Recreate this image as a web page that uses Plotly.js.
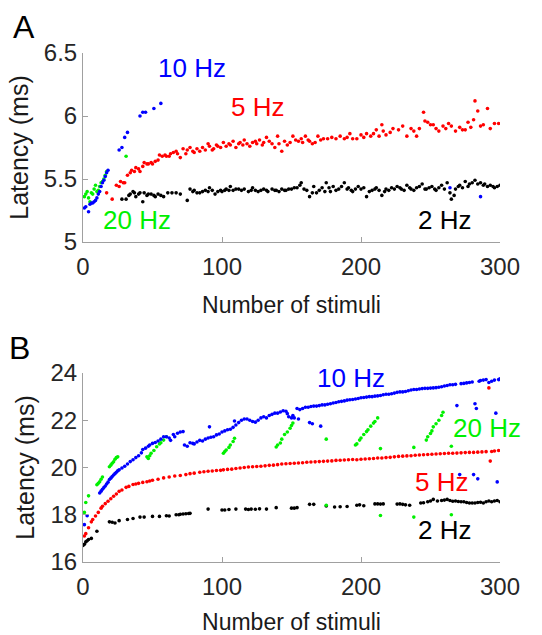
<!DOCTYPE html>
<html>
<head>
<meta charset="utf-8">
<script src="https://cdn.plot.ly/plotly-3.0.1.min.js"></script>
<style>html,body{margin:0;padding:0;background:#fff;}#chart{width:542px;height:635px;}</style>
</head>
<body>
<div id="chart"></div>
<script>
// ---------- Panel A data: [stimulus number, latency (ms)] ----------
const panelA_2Hz = [[28,5.34],[31,5.34],[33,5.37],[34,5.38],[36,5.40],[37,5.39],[38,5.36],[40,5.38],[41,5.39],[43,5.32],[44,5.39],[46,5.37],[47,5.38],[49,5.38],[51,5.37],[52,5.36],[54,5.38],[56,5.37],[58,5.36],[61,5.39],[64,5.39],[67,5.39],[70,5.38],[75,5.33],[77,5.42],[79,5.40],[80,5.41],[82,5.39],[84,5.39],[86,5.40],[88,5.41],[90,5.40],[91,5.43],[93,5.41],[95,5.38],[97,5.40],[99,5.41],[100,5.40],[102,5.41],[103,5.42],[105,5.41],[106,5.44],[108,5.41],[110,5.42],[112,5.42],[114,5.41],[116,5.42],[119,5.40],[121,5.41],[122,5.43],[124,5.41],[126,5.40],[128,5.41],[130,5.42],[132,5.41],[133,5.40],[136,5.42],[138,5.41],[139,5.41],[141,5.40],[143,5.42],[145,5.41],[146,5.41],[148,5.42],[150,5.42],[152,5.43],[154,5.43],[156,5.45],[157,5.47],[159,5.42],[161,5.41],[163,5.36],[165,5.39],[166,5.44],[168,5.39],[170,5.41],[172,5.43],[174,5.40],[175,5.47],[177,5.43],[178,5.40],[180,5.44],[182,5.41],[184,5.42],[186,5.44],[188,5.47],[190,5.42],[191,5.43],[193,5.41],[194,5.40],[196,5.42],[198,5.44],[200,5.42],[202,5.43],[204,5.36],[206,5.40],[208,5.41],[210,5.42],[211,5.43],[213,5.41],[215,5.37],[217,5.40],[218,5.42],[220,5.41],[222,5.43],[224,5.42],[226,5.44],[228,5.43],[229,5.42],[231,5.41],[233,5.45],[235,5.43],[236,5.42],[238,5.41],[240,5.43],[242,5.44],[244,5.46],[246,5.42],[247,5.42],[249,5.43],[251,5.44],[253,5.42],[254,5.41],[256,5.43],[258,5.45],[260,5.42],[262,5.47],[264,5.39],[265,5.34],[267,5.37],[268,5.42],[270,5.44],[271,5.45],[273,5.43],[275,5.48],[277,5.44],[278,5.46],[280,5.47],[282,5.49],[284,5.46],[286,5.47],[288,5.45],[289,5.46],[291,5.44],[293,5.45],[295,5.44],[296,5.43],[298,5.44],[300,5.45]];
const panelA_5Hz = [[17,5.39],[21,5.34],[24,5.45],[26,5.44],[27,5.48],[29,5.47],[30,5.47],[32,5.53],[34,5.55],[35,5.57],[37,5.56],[38,5.59],[40,5.58],[41,5.56],[43,5.60],[44,5.63],[46,5.62],[47,5.62],[49,5.63],[50,5.62],[52,5.64],[54,5.65],[55,5.69],[57,5.68],[59,5.69],[60,5.68],[62,5.68],[63,5.70],[65,5.71],[67,5.72],[68,5.70],[70,5.67],[72,5.74],[74,5.70],[75,5.73],[77,5.75],[79,5.72],[80,5.71],[82,5.74],[84,5.72],[86,5.75],[88,5.73],[90,5.78],[91,5.76],[93,5.73],[94,5.74],[96,5.77],[97,5.76],[99,5.75],[101,5.79],[103,5.76],[105,5.78],[106,5.77],[108,5.80],[110,5.75],[112,5.78],[113,5.79],[115,5.77],[116,5.81],[118,5.78],[120,5.76],[122,5.79],[124,5.80],[125,5.78],[127,5.81],[129,5.77],[130,5.79],[132,5.83],[134,5.80],[136,5.78],[138,5.75],[140,5.84],[141,5.78],[143,5.72],[145,5.80],[147,5.77],[149,5.79],[151,5.84],[153,5.81],[155,5.80],[157,5.82],[158,5.79],[160,5.84],[162,5.81],[163,5.80],[165,5.78],[167,5.79],[169,5.84],[171,5.81],[173,5.82],[176,5.82],[179,5.83],[182,5.82],[185,5.84],[188,5.82],[190,5.83],[192,5.86],[194,5.82],[197,5.82],[200,5.85],[202,5.83],[204,5.86],[207,5.84],[209,5.86],[211,5.89],[213,5.84],[215,5.93],[216,5.88],[218,5.85],[221,5.87],[223,5.90],[227,5.89],[230,5.92],[233,5.84],[236,5.90],[238,5.88],[240,5.84],[242,5.90],[245,6.03],[246,5.96],[248,5.95],[250,5.93],[252,5.93],[254,5.90],[256,5.88],[259,5.92],[261,5.90],[263,5.94],[265,5.92],[268,5.88],[271,5.91],[273,5.89],[275,5.89],[277,5.95],[279,5.91],[281,5.97],[282,6.12],[284,6.04],[286,5.92],[288,5.93],[291,6.06],[293,5.90],[296,5.94],[299,5.94]];
const panelA_10Hz = [[1,5.27],[2,5.28],[4,5.24],[5,5.30],[6,5.31],[7,5.31],[8,5.32],[9,5.33],[10,5.35],[11,5.38],[12,5.40],[13,5.44],[14,5.47],[15,5.49],[16,5.52],[17,5.55],[18,5.57],[26,5.73],[28,5.75],[30,5.83],[32,5.87],[41,6.00],[43,6.03],[45,6.03],[51,6.06],[56,6.10],[264,5.43],[286,5.36]];
const panelA_20Hz = [[1,5.36],[2,5.38],[3,5.40],[4,5.35],[5,5.32],[6,5.39],[7,5.38],[8,5.42],[9,5.45],[10,5.40],[11,5.41],[12,5.44],[13,5.47],[14,5.48],[15,5.50],[16,5.53],[17,5.56],[31,5.68]];

// ---------- Panel B data: [stimulus number, latency (ms)] ----------
const panelB_2Hz = [[0,16.7],[1,16.75],[2,16.85],[3,16.9],[4,16.95],[6,17.0],[10,17.3],[19,17.7],[21,17.68],[23,17.65],[26,17.75],[32,17.8],[36,17.84],[41,17.9],[44,17.9],[50,17.93],[55,17.93],[60,17.96],[62,17.95],[67,18.0],[69,18.0],[70,18.02],[72,18.03],[74,18.04],[76,18.05],[77,18.06],[90,18.24],[100,18.2],[102,18.2],[105,18.22],[110,18.24],[117,18.24],[119,18.22],[121,18.24],[124,18.23],[127,18.25],[132,18.24],[139,18.3],[150,18.28],[152,18.28],[154,18.3],[163,18.44],[166,18.44],[175,18.37],[181,18.33],[185,18.34],[190,18.35],[197,18.4],[199,18.42],[202,18.38],[210,18.46],[212,18.46],[214,18.45],[216,18.46],[226,18.45],[228,18.46],[230,18.44],[232,18.42],[235,18.4],[243,18.5],[245,18.51],[248,18.55],[250,18.58],[252,18.65],[255,18.58],[258,18.6],[260,18.62],[262,18.65],[264,18.6],[266,18.57],[268,18.58],[270,18.56],[272,18.55],[274,18.55],[276,18.52],[278,18.5],[280,18.5],[282,18.5],[284,18.52],[286,18.53],[288,18.5],[290,18.55],[292,18.58],[294,18.55],[296,18.58],[298,18.6],[300,18.55]];
const panelB_5Hz = [[1,17.1],[2,17.2],[4,17.45],[6,17.7],[7,17.8],[9,17.95],[11,18.1],[13,18.28],[14,18.36],[16,18.47],[18,18.57],[20,18.68],[22,18.78],[24,18.88],[26,18.99],[28,19.05],[31,19.16],[33,19.2],[36,19.28],[38,19.3],[40,19.33],[43,19.37],[46,19.4],[48,19.43],[50,19.46],[54,19.5],[58,19.56],[62,19.6],[66,19.64],[70,19.66],[74,19.7],[77,19.74],[80,19.76],[84,19.8],[87,19.82],[90,19.84],[93,19.85],[96,19.87],[99,19.88],[101,19.9],[104,19.92],[107,19.93],[110,19.96],[113,19.98],[116,20.0],[119,20.02],[122,20.03],[125,20.04],[128,20.05],[131,20.07],[134,20.09],[137,20.1],[140,20.12],[143,20.15],[146,20.16],[149,20.17],[152,20.18],[155,20.19],[158,20.2],[161,20.22],[164,20.23],[167,20.24],[170,20.25],[173,20.26],[176,20.27],[179,20.28],[182,20.3],[185,20.31],[188,20.32],[191,20.33],[194,20.34],[197,20.33],[200,20.35],[203,20.36],[206,20.37],[209,20.38],[212,20.4],[215,20.4],[218,20.42],[221,20.43],[224,20.45],[227,20.47],[230,20.48],[233,20.49],[236,20.5],[239,20.52],[242,20.53],[245,20.54],[248,20.55],[251,20.56],[254,20.57],[257,20.58],[260,20.59],[263,20.6],[266,20.6],[269,20.61],[272,20.62],[275,20.63],[278,20.64],[281,20.64],[284,20.65],[287,20.66],[290,20.67],[292,23.37],[293,20.27],[294,20.68],[296,20.7],[299,20.72]];
const panelB_10Hz = [[1,17.58],[3,17.96],[12,18.92],[13,19.0],[14,19.08],[15,19.15],[16,19.22],[17,19.3],[18,19.38],[19,19.49],[20,19.55],[21,19.62],[22,19.68],[23,19.74],[24,19.8],[25,19.86],[26,19.9],[28,19.98],[30,20.05],[32,20.15],[34,20.25],[36,20.33],[38,20.42],[40,20.5],[42,20.62],[43,20.76],[45,20.82],[47,20.9],[48,20.95],[50,21.02],[52,21.06],[54,21.12],[56,21.2],[58,21.3],[60,21.3],[62,21.25],[63,21.15],[65,21.4],[66,21.3],[68,21.45],[70,21.5],[72,21.52],[73,20.95],[75,20.9],[77,21.05],[79,21.02],[80,21.0],[82,21.08],[84,21.15],[86,21.12],[88,21.2],[90,21.25],[91,21.72],[92,21.28],[94,21.3],[96,21.38],[98,21.42],[100,21.5],[102,21.55],[104,21.6],[106,21.62],[108,21.7],[109,21.97],[110,21.8],[112,21.9],[114,22.0],[116,22.05],[118,22.05],[120,22.0],[122,21.95],[124,21.92],[126,22.0],[128,22.1],[130,22.15],[132,22.1],[134,22.2],[136,22.25],[138,22.3],[140,22.3],[142,22.35],[144,22.4],[146,22.38],[147,22.28],[148,22.15],[150,22.1],[151,22.2],[152,22.1],[154,22.5],[155,22.05],[156,22.45],[158,22.5],[160,22.55],[162,22.55],[163,21.9],[164,22.58],[165,21.85],[166,22.6],[168,22.6],[170,22.62],[171,21.75],[172,22.65],[174,22.65],[176,22.68],[178,22.7],[180,22.73],[182,22.75],[184,22.78],[186,22.8],[188,22.82],[190,22.85],[192,22.87],[194,22.88],[196,22.9],[198,22.92],[200,22.95],[202,22.96],[204,22.98],[206,23.0],[208,23.0],[210,23.02],[212,23.03],[214,23.05],[216,23.08],[218,23.1],[220,23.1],[222,23.12],[224,23.15],[226,23.18],[228,23.2],[230,23.2],[232,23.22],[234,23.25],[236,23.28],[238,23.3],[240,23.3],[242,23.32],[244,23.34],[246,23.35],[248,23.35],[250,23.36],[252,23.37],[254,23.38],[256,23.4],[258,23.42],[260,23.45],[262,23.47],[264,23.5],[266,23.5],[268,23.52],[269,22.62],[271,19.7],[272,23.55],[274,23.56],[276,23.58],[278,23.6],[280,23.62],[281,19.7],[282,22.7],[283,22.5],[284,19.52],[285,23.65],[286,23.68],[288,23.7],[290,23.72],[292,23.6],[294,23.65],[296,23.7],[297,22.3],[298,19.39],[299,23.72],[300,23.75]];
const panelB_20Hz = [[1,18.1],[2,18.52],[4,18.8],[10,19.27],[11,19.33],[12,19.4],[13,19.5],[14,19.6],[19,20.03],[20,20.1],[21,20.18],[22,20.24],[23,20.35],[24,20.42],[25,20.45],[46,20.45],[47,20.38],[48,20.5],[49,20.6],[51,20.72],[53,20.88],[55,21.0],[56,21.05],[58,21.16],[60,21.3],[101,20.6],[102,20.68],[103,20.74],[105,20.85],[106,20.95],[108,21.1],[109,21.24],[139,20.87],[140,20.95],[142,21.04],[143,21.2],[145,21.4],[147,21.5],[149,21.66],[150,21.78],[151,21.88],[175,21.2],[175,18.4],[196,20.95],[197,21.0],[199,21.16],[200,21.25],[202,21.4],[204,21.52],[205,21.6],[207,21.75],[209,21.88],[210,21.95],[212,22.1],[214,20.8],[214,17.97],[238,20.85],[238,17.9],[247,21.16],[248,21.3],[250,21.44],[251,21.55],[252,21.72],[254,21.85],[256,22.0],[258,22.2],[259,22.34],[265,20.9],[265,18.0]];

const xTicks = [0, 100, 200, 300];
const yTicksA = [5, 5.5, 6, 6.5];
const yTickTextA = ['5', '5.5', '6', '6.5'];
const yTicksB = [16, 18, 20, 22, 24];
const xTitle = 'Number of stimuli';
const yTitle = 'Latency (ms)';

const COLORS = {'2Hz':'#000000','5Hz':'#ff0000','10Hz':'#0000ff','20Hz':'#00f000'};
const FONT = 'Liberation Sans, Arial, Helvetica, sans-serif';

function tr(data, color, xa, ya) {
  return {
    type: 'scatter', mode: 'markers',
    x: data.map(d => d[0]), y: data.map(d => d[1]),
    xaxis: xa, yaxis: ya,
    marker: {color: color, size: 3.6, line: {width: 0}},
    hoverinfo: 'x+y', showlegend: false
  };
}

const traces = [
  tr(panelA_2Hz, COLORS['2Hz'], 'x', 'y'),
  tr(panelA_5Hz, COLORS['5Hz'], 'x', 'y'),
  tr(panelA_20Hz, COLORS['20Hz'], 'x', 'y'),
  tr(panelA_10Hz, COLORS['10Hz'], 'x', 'y'),
  tr(panelB_2Hz, COLORS['2Hz'], 'x2', 'y2'),
  tr(panelB_20Hz, COLORS['20Hz'], 'x2', 'y2'),
  tr(panelB_5Hz, COLORS['5Hz'], 'x2', 'y2'),
  tr(panelB_10Hz, COLORS['10Hz'], 'x2', 'y2')
];

const W = 542, H = 635;
const xDom = [83 / W, 500 / W];
const yDomA = [(H - 242) / H, (H - 53) / H];
const yDomB = [(H - 562) / H, (H - 373) / H];

const axBase = {
  showline: true, linecolor: '#a0a0a0', linewidth: 1,
  ticks: 'inside', ticklen: 5, tickcolor: '#a0a0a0', tickwidth: 1,
  showgrid: false, zeroline: false, mirror: false, fixedrange: true,
  tickfont: {family: FONT, size: 24, color: '#262626'}
};
function xa(anchor, standoff) {
  return Object.assign({}, axBase, {
    domain: xDom, anchor: anchor, range: [0, 300], tickvals: xTicks,
    ticklabelstandoff: 3,
    title: {text: xTitle, font: {family: FONT, size: 23, color: '#1a1a1a'}, standoff: standoff}
  });
}
function ya(anchor, dom, range, tv, tt) {
  return Object.assign({}, axBase, {
    domain: dom, anchor: anchor, range: range, tickvals: tv, ticktext: tt,
    ticklabelstandoff: 0,
    title: {text: yTitle, font: {family: FONT, size: 25, color: '#1a1a1a'}, standoff: 8}
  });
}

function lab(text, color, xpx, ypx, size) {
  return {text: text, xref: 'paper', yref: 'paper', x: xpx / W, y: 1 - ypx / H,
    xanchor: 'center', yanchor: 'middle', showarrow: false,
    font: {family: FONT, size: size || 26, color: color}};
}

const layout = {
  width: W, height: H,
  margin: {l: 0, r: 0, t: 0, b: 0},
  paper_bgcolor: '#ffffff', plot_bgcolor: '#ffffff',
  showlegend: false,
  xaxis: xa('y', 18),
  yaxis: ya('x', yDomA, [5, 6.5], yTicksA, yTickTextA),
  xaxis2: xa('y2', 18),
  yaxis2: ya('x2', yDomB, [16, 24], yTicksB, yTicksB.map(String)),
  annotations: [
    lab('A', '#000', 24, 27, 32),
    lab('B', '#000', 19, 348, 32),
    lab('10 Hz', COLORS['10Hz'], 192, 68),
    lab('5 Hz', COLORS['5Hz'], 257, 107),
    lab('20 Hz', COLORS['20Hz'], 137, 220),
    lab('2 Hz', '#000', 444, 220),
    lab('10 Hz', COLORS['10Hz'], 351, 378),
    lab('20 Hz', COLORS['20Hz'], 487, 428),
    lab('5 Hz', COLORS['5Hz'], 441, 482),
    lab('2 Hz', '#000', 444, 530)
  ]
};

Plotly.newPlot('chart', traces, layout, {staticPlot: true, displayModeBar: false});
</script>
</body>
</html>
